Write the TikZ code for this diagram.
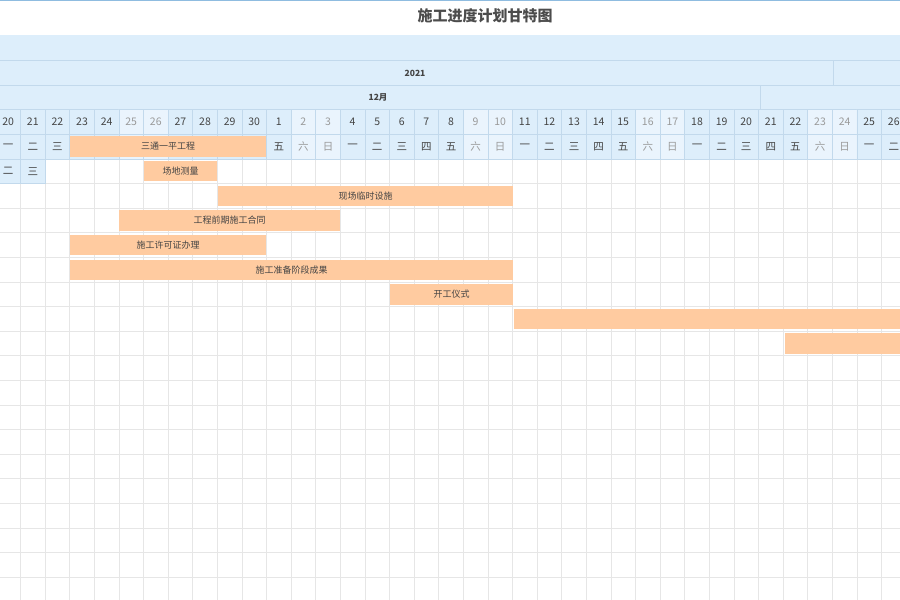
\documentclass[tikz,border=0pt]{standalone}
\usepackage{fontspec}
\setmainfont{Noto Sans CJK SC}
\usetikzlibrary{positioning}
\definecolor{hdrfill}{HTML}{DDEEFB}
\definecolor{wkfill}{HTML}{EAF4FD}
\definecolor{hdrline}{HTML}{C2D9EC}
\definecolor{gridline}{HTML}{E6E6E6}
\definecolor{barfill}{HTML}{FFCBA0}
\definecolor{titleline}{HTML}{8FBCE0}
\definecolor{txt}{HTML}{444444}
\definecolor{wktxt}{HTML}{9A9A9A}
\begin{document}
\begin{tikzpicture}
  [x=1pt, y=-1pt,
   hdr/.style={fill=hdrfill, draw=hdrline, line width=.8pt},
   wkhdr/.style={fill=wkfill, draw=hdrline, line width=.8pt},
   daytxt/.style={font=\fontsize{10.5}{12}\selectfont, text=txt},
   wktext/.style={font=\fontsize{10.5}{12}\selectfont, text=wktxt},
   bar/.style={fill=barfill, draw=none},
   bartxt/.style={font=\fontsize{9}{11}\selectfont, text=txt}]

  \useasboundingbox (0,0) rectangle (900,600);
  \clip (0,0) rectangle (900,600);

  % title band
  \draw[titleline, line width=1pt] (0,0.5) -- (900,0.5);
  \node[font=\bfseries\fontsize{15}{18}\selectfont, text=black!70] (title)
    at (485,16) {施工进度计划甘特图};
  \draw[titleline, line width=1pt] (0,35) -- (900,35);

  % header bands
  \fill[hdrfill] (0,35) rectangle (900,109);
  \draw[hdrline, line width=.8pt] (0,60) -- (900,60) (0,85) -- (900,85)
    (833,60) -- (833,85) (760,85) -- (760,109);
  \node[font=\bfseries\fontsize{8.5}{10}\selectfont, text=txt] (year) at (415,73) {2021};
  \node[font=\bfseries\fontsize{8.5}{10}\selectfont, text=txt] (month) at (378,97) {12月};

  % grid body
  \foreach \r in {0,...,18}
    \draw[gridline, line width=.8pt] (0,{159+24.6*\r}) -- (900,{159+24.6*\r});
  \foreach \k in {0,...,37}
    \draw[gridline, line width=.8pt] ({-4.1+24.6*\k},159) -- ({-4.1+24.6*\k},600);

  % day and weekday cells
  \foreach \k in {0,...,36} {
    \pgfmathsetmacro{\xa}{-4.1+24.6*\k}
    \pgfmathtruncatemacro{\dnum}{\k<=10 ? 20+\k : \k-10}
    \pgfmathtruncatemacro{\wkd}{mod(\k,7)}
    \ifnum\wkd>4
      \path[wkhdr] (\xa,109) rectangle ++(24.6,25) (\xa,134) rectangle ++(24.6,25);
      \node[wktext] (d\k) at (\xa+12.3,121.5) {\dnum};
      \node[wktext] (w\k) at (\xa+12.3,146.5)
        {\ifcase\wkd 一\or 二\or 三\or 四\or 五\or 六\or 日\fi};
    \else
      \path[hdr] (\xa,109) rectangle ++(24.6,25) (\xa,134) rectangle ++(24.6,25);
      \node[daytxt] (d\k) at (\xa+12.3,121.5) {\dnum};
      \node[daytxt] (w\k) at (\xa+12.3,146.5)
        {\ifcase\wkd 一\or 二\or 三\or 四\or 五\or 六\or 日\fi};
    \fi
  }
  % frozen row leftover
  \path[hdr] (-4.1,159) rectangle ++(24.6,24.6) (20.5,159) rectangle ++(24.6,24.6);
  \node[daytxt] (x0) at (8.2,171.3) {二};
  \node[daytxt] (x1) at (32.8,171.3) {三};

  % bars
  \path[bar] (70,136) rectangle (266,157);
  \node[bartxt] (b1) at (168,146.5) {三通一平工程};
  \path[bar] (144,161) rectangle (217,181);
  \node[bartxt] (b2) at (180.5,171) {场地测量};
  \path[bar] (218,186) rectangle (513,206);
  \node[bartxt] (b3) at (365.5,196) {现场临时设施};
  \path[bar] (119,210) rectangle (340,231);
  \node[bartxt] (b4) at (229.5,220.5) {工程前期施工合同};
  \path[bar] (70,235) rectangle (266,255);
  \node[bartxt] (b5) at (168,245) {施工许可证办理};
  \path[bar] (70,260) rectangle (513,280);
  \node[bartxt] (b6) at (291.5,270) {施工准备阶段成果};
  \path[bar] (390,284) rectangle (513,305);
  \node[bartxt] (b7) at (451.5,294.5) {开工仪式};
  \path[bar] (514,309) rectangle (905,329);
  \path[bar] (785,333) rectangle (905,354);
\end{tikzpicture}
\end{document}
